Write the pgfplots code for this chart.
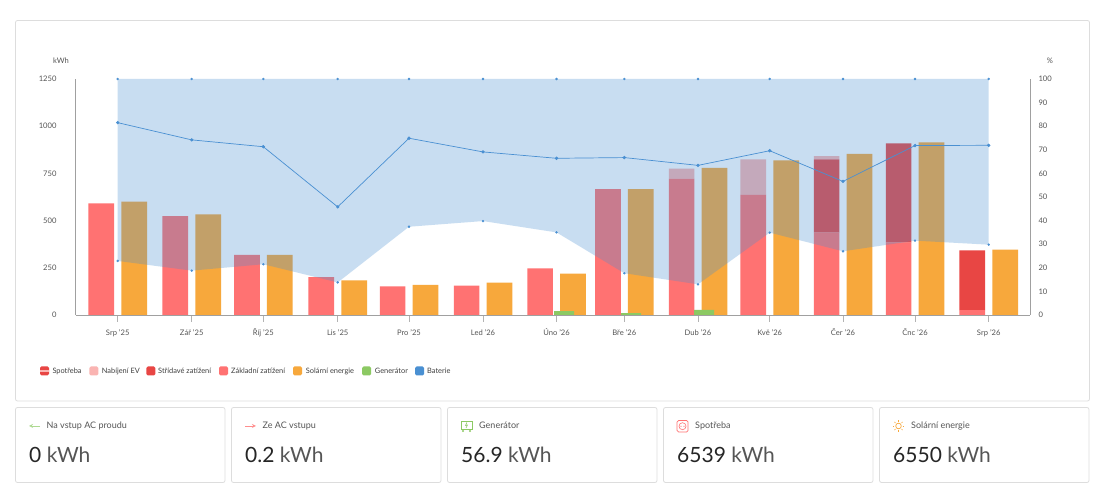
\documentclass[border=0pt]{standalone}
\usepackage{fontspec}
\setmainfont{Lato}
\usepackage{pgfplots}
\usepackage{pgfplotstable}
\pgfplotsset{compat=1.18}
\definecolor{cBase}{HTML}{FF7272}
\definecolor{cAC}{HTML}{E84644}
\definecolor{cEV}{HTML}{FAB4B2}
\definecolor{cSolar}{HTML}{F7A83C}
\definecolor{cGen}{HTML}{8CC963}
\definecolor{cBat}{HTML}{4A90D2}
\definecolor{cTxt}{HTML}{555555}
\definecolor{cAxis}{HTML}{A0A0A0}
\definecolor{cBorder}{HTML}{DDDDDD}
\pgfplotstableread{
x base ac ev solar
117.7 591 0 0 600
191.7 524 0 0 533
263.3 318 0 0 318
337.7 200 0 0 184
409.0 152 0 0 159
483.0 155 0 0 171
556.5 247 0 0 219
624.3 667 0 0 667
698.0 722 0 53 779
769.7 636 0 188 819
843.0 436 388 18 854
915.0 383 526 0 914
988.7 26 316 0 346
}\energy
\pgfplotstableread{
x lo hi soc
117.7 22.9 100 81.5
191.7 18.8 100 74.2
263.3 21.5 100 71.3
337.7 13.8 100 45.8
409.0 37.4 100 74.9
483.0 39.8 100 69.1
556.5 35.0 100 66.4
624.3 17.7 100 66.7
698.0 13.0 100 63.4
769.7 34.9 100 69.6
843.0 27.0 100 56.6
915.0 31.5 100 71.8
988.7 29.8 100 71.9
}\battery
\pgfplotsset{
  base/.style={
    at={(75.5pt,179pt)}, anchor=south west, scale only axis,
    width=954.5pt, height=236pt,
    xmin=75.5, xmax=1030,
    /pgf/number format/assume math mode=true,
    /pgf/number format/1000 sep={},
    tick label style={font=\fontsize{7.6}{9}\selectfont, text=cTxt},
    x axis line style={draw=cAxis, line width=0.9pt},
    y axis line style={draw=cAxis, line width=0.9pt},
  }
}
\begin{document}
\begin{tikzpicture}
\path[use as bounding box] (0pt,0pt) rectangle (1110pt,494pt);
\fill[white] (0pt,0pt) rectangle (1110pt,494pt);
% stacked consumption, left axis
\begin{axis}[base,
  ymin=0, ymax=1250, ytick={0,250,500,750,1000,1250},
  axis x line*=bottom, axis y line*=left,
  xtick={117.7,191.7,263.3,337.7,409,483,556.5,624.3,698,769.7,843,915,988.7},
  xticklabels={Srp '25,Zář '25,Říj '25,Lis '25,Pro '25,Led '26,Úno '26,Bře '26,Dub '26,Kvě '26,Čer '26,Čnc '26,Srp '26},
  x tick label style={anchor=base, yshift=-14pt},
  y tick label style={xshift=-8.5pt},
  tick align=outside,
  x tick style={draw=cAxis!80, line width=0.8pt},
  y tick style={draw=none},
  major tick length=7pt,
  ybar stacked, bar width=25.7pt,
]
\addplot[fill=cBase, draw=none] table[x expr=\thisrow{x}-16.4, y=base] {\energy};
\addplot[fill=cAC, draw=none] table[x expr=\thisrow{x}-16.4, y=ac] {\energy};
\addplot[fill=cEV, draw=none] table[x expr=\thisrow{x}-16.4, y=ev] {\energy};
\end{axis}
% solar and generator
\begin{axis}[base, hide axis, ymin=0, ymax=1250]
\addplot[ybar, bar width=25.7pt, bar shift=0pt, fill=cSolar, draw=none] table[x expr=\thisrow{x}+16.5, y=solar] {\energy};
\addplot[ybar, bar width=20pt, bar shift=0pt, fill=cGen, draw=none] coordinates {(564,21) (631,10) (704,27)};
\end{axis}
% battery band and line, right axis
\begin{axis}[base, clip=false,
  ymin=0, ymax=100, ytick={0,10,...,100},
  axis x line=none, axis y line*=right,
  y tick label style={xshift=5pt, anchor=west},
  y tick style={draw=none},
  major tick length=5pt,
]
\addplot[fill=cBat, fill opacity=0.3, draw=none] coordinates {
 (117.7,100) (191.7,100) (263.3,100) (337.7,100) (409,100) (483,100) (556.5,100) (624.3,100) (698,100) (769.7,100) (843,100) (915,100) (988.7,100)
 (988.7,29.8) (915,31.5) (843,27.0) (769.7,34.9) (698,13.0) (624.3,17.7) (556.5,35.0) (483,39.8) (409,37.4) (337.7,13.8) (263.3,21.5) (191.7,18.8) (117.7,22.9)
} --cycle;
\addplot[only marks, cBat, mark=*, mark size=1pt, mark options={fill=cBat, draw=none}] table[x=x, y=hi] {\battery};
\addplot[only marks, cBat, mark=*, mark size=1pt, mark options={fill=cBat, draw=none}] table[x=x, y=lo] {\battery};
\addplot[cBat, line width=0.7pt, mark=*, mark size=1.3pt, mark options={fill=cBat, draw=none}] table[x=x, y=soc] {\battery};
\end{axis}
\begin{scope}[x=1pt, y=-1pt, yshift=494pt]
 % panels
 \draw[cBorder, line width=0.8pt, rounded corners=2pt] (15.5,20.5) rectangle (1089.5,401);
 \foreach \i in {0,...,4} {
   \draw[cBorder, line width=0.8pt, rounded corners=2pt] ({15.5+216*\i},407.5) rectangle ({225+216*\i},482.5);
 }
 % axis units
 \node[anchor=base east, text=cTxt, font=\fontsize{7.6}{9}\selectfont] at (72.5,64) {kWh};
 \node[anchor=base, text=cTxt, font=\fontsize{7.6}{9}\selectfont] at (1050,64) {\%};
 % legend
 \foreach \xx/\col in {89.3/cEV,146.3/cAC,219/cBase,293/cSolar,362/cGen,415/cBat} {
   \fill[\col, rounded corners=1.5pt] (\xx,366.5) rectangle +(9,9);
 }
 \fill[cAC, rounded corners=1.5pt] (40,366.5) rectangle +(9,9);
 \fill[cEV] (40,370.2) rectangle +(9,1.6);
 \tikzset{leg/.style={anchor=base west, inner sep=0pt, text=black!75, font=\fontsize{7.4}{9}\selectfont}}
 \node[leg] at (52.3,373.8) {Spotřeba};
 \node[leg] at (101.7,373.8) {Nabíjení EV};
 \node[leg] at (158,373.8) {Střídavé zatížení};
 \node[leg] at (231,373.8) {Základní zatížení};
 \node[leg] at (305.7,373.8) {Solární energie};
 \node[leg] at (374.7,373.8) {Generátor};
 \node[leg] at (427,373.8) {Baterie};
 % cards
 \tikzset{lab/.style={anchor=base west, inner sep=0pt, text=cTxt, font=\fontsize{9}{10}\selectfont},
          val/.style={anchor=base west, inner sep=0pt, font=\fontsize{21}{24}\selectfont}}
 \node[lab] at (46.5,429) {Na vstup AC proudu};
 \node[lab] at (262.5,429) {Ze AC vstupu};
 \node[lab] at (479,429) {Generátor};
 \node[lab] at (695,429) {Spotřeba};
 \node[lab] at (911,429) {Solární energie};
 \node[val] at (29,463) {\textcolor{black!85}{0} \textcolor{cTxt}{kWh}};
 \node[val] at (245,463) {\textcolor{black!85}{0.2} \textcolor{cTxt}{kWh}};
 \node[val] at (461,463) {\textcolor{black!85}{56.9} \textcolor{cTxt}{kWh}};
 \node[val] at (677,463) {\textcolor{black!85}{6539} \textcolor{cTxt}{kWh}};
 \node[val] at (893,463) {\textcolor{black!85}{6550} \textcolor{cTxt}{kWh}};
 % icons
 \draw[cGen!70, line width=0.8pt, -stealth] (40,426) -- (29,426);
 \draw[cBase!80, line width=0.8pt, -stealth] (245,426) -- (256,426);
 \draw[cGen, line width=0.7pt] (461,421) rectangle (472,429);
 \draw[cGen, line width=0.6pt] (466.8,422.5) -- (465.5,425.5) -- (467.5,425) -- (466,428);
 \fill[cGen] (463,431) circle (1.1) (470,431) circle (1.1);
 \draw[cBase, line width=0.7pt, rounded corners=1.5pt] (677,420.5) rectangle (688,432);
 \draw[cBase, line width=0.6pt] (682.5,426.2) circle (3.5);
 \fill[cBase] (681,426.2) circle (0.6) (684,426.2) circle (0.6);
 \draw[cSolar, line width=0.7pt] (898.5,426) circle (2.8);
 \foreach \a in {0,45,...,315} { \draw[cSolar, line width=0.6pt] (898.5,426) ++(\a:4.2) -- ++(\a:1.6); }
\end{scope}
\end{tikzpicture}
\end{document}
